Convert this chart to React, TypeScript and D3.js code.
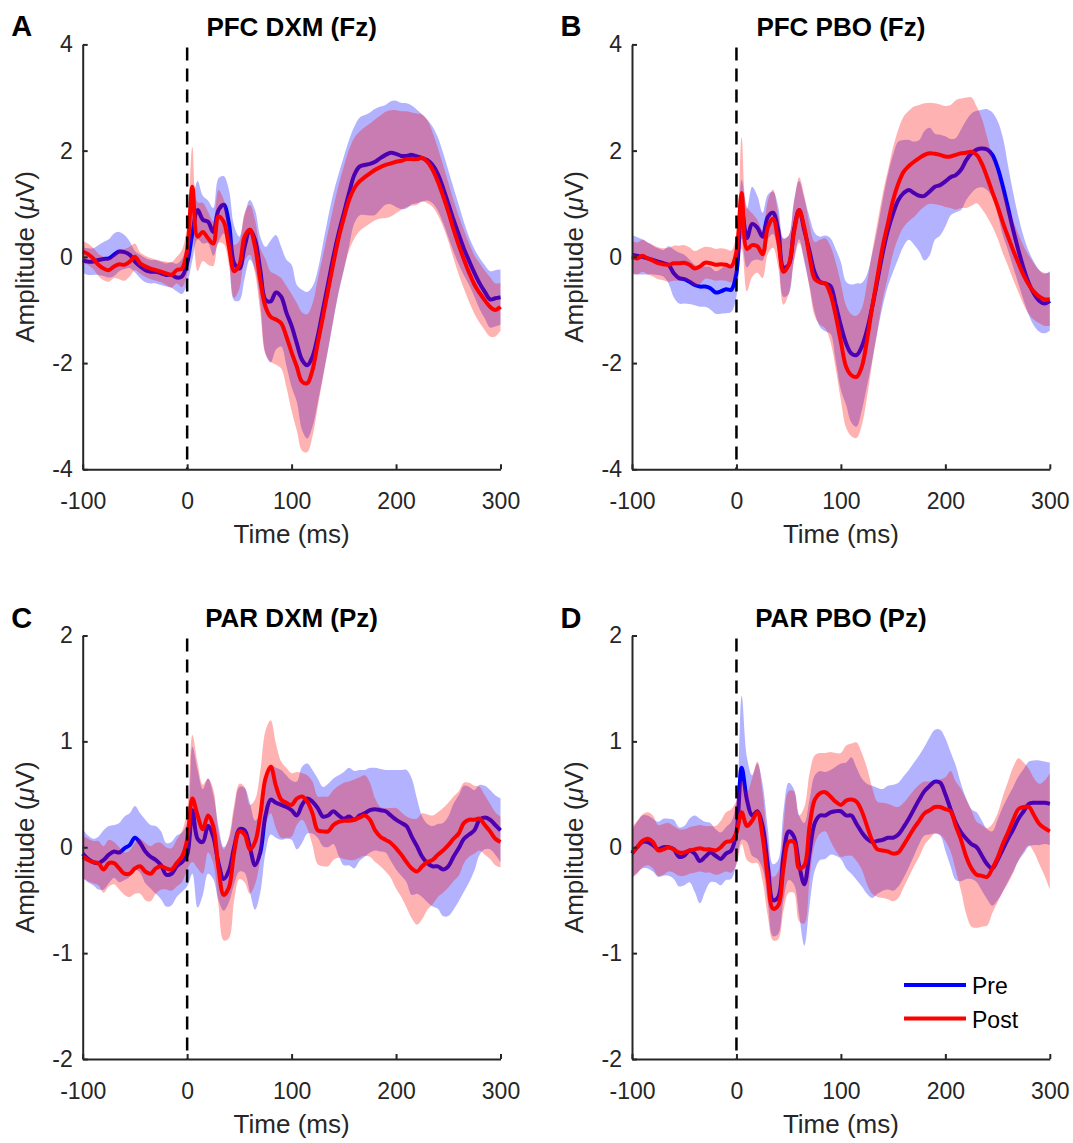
import React, { useEffect, useRef } from "react";
import * as d3 from "d3";

// time axis (ms), sampled every 5 ms
const times = [
  -100, -95, -90, -85, -80, -75, -70, -65, -60, -55,
  -50, -45, -40, -35, -30, -25, -20, -15, -10, -5,
  0, 5, 10, 15, 20, 25, 30, 35, 40, 45,
  50, 55, 60, 65, 70, 75, 80, 85, 90, 95,
  100, 105, 110, 115, 120, 125, 130, 135, 140, 145,
  150, 155, 160, 165, 170, 175, 180, 185, 190, 195,
  200, 205, 210, 215, 220, 225, 230, 235, 240, 245,
  250, 255, 260, 265, 270, 275, 280, 285, 290, 295,
  300,
];

const xTicks = [-100, 0, 100, 200, 300];
const yTicksFz = [-4, -2, 0, 2, 4];
const yTicksPz = [-2, -1, 0, 1, 2];

// ---- A: PFC DXM (Fz) ----
const aPreMean = [
  -0.06, -0.09, -0.09, -0.06, -0.04, -0.03, 0.04, 0.1, 0.09, 0.04,
  -0.09, -0.18, -0.25, -0.28, -0.28, -0.31, -0.34, -0.34, -0.39, -0.37,
  -0.12, 0.44, 0.88, 0.7, 0.66, 0.47, 0.88, 0.98, 0.63, -0.12,
  -0.22, 0.19, 0.51, 0.32, -0.25, -0.81, -0.84, -0.67, -0.75, -1.05,
  -1.3, -1.63, -1.94, -2.04, -1.88, -1.5, -1.0, -0.5, 0.0, 0.44,
  0.82, 1.2, 1.54, 1.7, 1.73, 1.75, 1.79, 1.86, 1.92, 1.96,
  1.94, 1.9, 1.9, 1.92, 1.89, 1.86, 1.82, 1.73, 1.56, 1.3,
  1.0, 0.7, 0.42, 0.15, -0.08, -0.3, -0.5, -0.66, -0.8, -0.78,
  -0.76,
];
const aPreErr = [
  0.24, 0.25, 0.25, 0.28, 0.32, 0.36, 0.4, 0.37, 0.32, 0.25,
  0.2, 0.22, 0.23, 0.22, 0.22, 0.22, 0.22, 0.24, 0.26, 0.33,
  0.38, 0.5, 0.55, 0.45, 0.4, 0.45, 0.6, 0.54, 0.63, 0.7,
  0.6, 0.6, 0.56, 0.56, 0.63, 1.0, 1.15, 1.08, 0.94, 1.0,
  1.15, 1.1, 1.32, 1.38, 1.32, 1.25, 1.25, 1.25, 1.2, 1.12,
  1.07, 1.0, 0.91, 0.92, 0.94, 0.97, 1.0, 0.97, 0.94, 0.97,
  1.0, 1.0, 0.99, 0.93, 0.88, 0.82, 0.76, 0.72, 0.69, 0.66,
  0.63, 0.6, 0.56, 0.5, 0.45, 0.45, 0.48, 0.5, 0.53, 0.53,
  0.52,
];
const aPostMean = [
  0.1, 0.05, -0.03, -0.15, -0.22, -0.25, -0.18, -0.14, -0.15, -0.09,
  0.0, -0.12, -0.18, -0.22, -0.25, -0.28, -0.31, -0.34, -0.25, -0.22,
  0.13, 1.32, 0.38, 0.47, 0.35, 0.25, 0.76, 0.66, 0.19, -0.27,
  -0.15, 0.38, 0.51, 0.19, -0.44, -0.94, -1.13, -1.18, -1.25, -1.5,
  -1.8, -2.07, -2.35, -2.38, -2.13, -1.63, -1.13, -0.62, -0.12, 0.35,
  0.73, 1.07, 1.29, 1.42, 1.5, 1.57, 1.64, 1.69, 1.73, 1.76,
  1.79, 1.81, 1.84, 1.84, 1.84, 1.86, 1.79, 1.64, 1.42, 1.15,
  0.85, 0.52, 0.22, -0.05, -0.3, -0.52, -0.68, -0.82, -0.94, -1.0,
  -0.94,
];
const aPostErr = [
  0.2, 0.2, 0.2, 0.21, 0.22, 0.22, 0.22, 0.28, 0.3, 0.28,
  0.25, 0.2, 0.2, 0.2, 0.2, 0.2, 0.22, 0.24, 0.25, 0.35,
  0.45, 0.75, 0.65, 0.55, 0.5, 0.42, 0.5, 0.42, 0.35, 0.5,
  0.45, 0.45, 0.47, 0.5, 0.6, 0.9, 0.85, 0.85, 0.85, 0.95,
  1.1, 1.2, 1.3, 1.3, 1.25, 1.2, 1.15, 1.1, 1.05, 1.0,
  0.97, 0.95, 0.95, 0.94, 0.94, 0.94, 0.95, 0.97, 1.0, 1.0,
  0.97, 0.93, 0.9, 0.88, 0.86, 0.82, 0.78, 0.7, 0.63, 0.58,
  0.55, 0.55, 0.55, 0.55, 0.55, 0.55, 0.56, 0.56, 0.56, 0.5,
  0.45,
];

// ---- B: PFC PBO (Fz) ----
const bPreMean = [
  0.04, 0.02, 0.0, -0.03, -0.06, -0.09, -0.12, -0.15, -0.31, -0.4,
  -0.42, -0.47, -0.53, -0.56, -0.56, -0.59, -0.67, -0.65, -0.61, -0.62,
  -0.3, 0.9, 0.35, 0.62, 0.55, 0.38, 0.75, 0.83, 0.5, -0.2,
  -0.15, 0.5, 0.88, 0.5, 0.1, -0.3, -0.47, -0.5, -0.55, -0.9,
  -1.3, -1.63, -1.82, -1.85, -1.69, -1.38, -0.94, -0.44, 0.07, 0.5,
  0.82, 1.07, 1.2, 1.26, 1.2, 1.15, 1.15, 1.23, 1.32, 1.35,
  1.42, 1.5, 1.54, 1.64, 1.82, 1.95, 2.02, 2.04, 2.02, 1.92,
  1.68, 1.33, 0.92, 0.5, 0.12, -0.22, -0.5, -0.7, -0.83, -0.88,
  -0.83,
];
const bPreErr = [
  0.37, 0.35, 0.33, 0.3, 0.27, 0.25, 0.25, 0.35, 0.45, 0.48,
  0.46, 0.42, 0.38, 0.38, 0.38, 0.4, 0.4, 0.42, 0.45, 0.42,
  0.45, 0.55, 0.55, 0.7, 0.6, 0.45, 0.42, 0.4, 0.45, 0.55,
  0.55, 0.55, 0.55, 0.6, 0.65, 0.75, 0.85, 0.9, 0.9, 1.05,
  1.2, 1.16, 1.3, 1.35, 1.2, 1.05, 1.0, 0.97, 1.0, 1.05,
  1.1, 1.1, 1.0, 0.94, 0.97, 1.05, 1.22, 1.2, 1.0, 0.95,
  0.85, 0.72, 0.7, 0.76, 0.75, 0.75, 0.73, 0.73, 0.76, 0.8,
  0.88, 0.92, 0.8, 0.7, 0.63, 0.6, 0.6, 0.6, 0.58, 0.56,
  0.56,
];
const bPostMean = [
  0.0, -0.03, 0.02, -0.03, -0.07, -0.12, -0.14, -0.15, -0.12, -0.12,
  -0.11, -0.15, -0.22, -0.18, -0.11, -0.12, -0.15, -0.14, -0.15, -0.18,
  0.1, 1.2, 0.15, 0.22, 0.2, 0.05, 0.55, 0.72, 0.3, -0.28,
  -0.15, 0.45, 0.88, 0.55, 0.0, -0.42, -0.48, -0.5, -0.7, -1.1,
  -1.6, -2.07, -2.23, -2.26, -2.07, -1.57, -0.94, -0.37, 0.19, 0.63,
  1.07, 1.38, 1.6, 1.71, 1.79, 1.86, 1.92, 1.95, 1.94, 1.92,
  1.89, 1.89, 1.92, 1.95, 1.96, 1.98, 1.92, 1.75, 1.5, 1.22,
  0.95, 0.65, 0.38, 0.12, -0.12, -0.35, -0.53, -0.66, -0.75, -0.8,
  -0.8,
];
const bPostErr = [
  0.3, 0.3, 0.3, 0.3, 0.3, 0.3, 0.3, 0.32, 0.33, 0.33,
  0.33, 0.33, 0.33, 0.33, 0.3, 0.3, 0.3, 0.3, 0.3, 0.3,
  0.32, 1.05, 0.8, 0.6, 0.5, 0.45, 0.5, 0.55, 0.5, 0.62,
  0.55, 0.55, 0.62, 0.6, 0.6, 0.7, 0.8, 0.85, 0.9, 1.0,
  1.1, 1.15, 1.15, 1.15, 1.1, 1.08, 1.05, 1.02, 1.0, 1.0,
  1.0, 1.02, 1.04, 1.04, 1.04, 1.0, 0.97, 0.95, 0.95, 0.95,
  0.95, 0.97, 1.03, 1.03, 1.04, 1.02, 0.91, 0.85, 0.75, 0.65,
  0.6, 0.58, 0.55, 0.55, 0.55, 0.55, 0.55, 0.53, 0.5, 0.5,
  0.5,
];

// ---- C: PAR DXM (Pz) ----
const cPreMean = [
  -0.06, -0.11, -0.14, -0.15, -0.12, -0.07, -0.04, -0.05, -0.01, 0.02,
  0.09, 0.04, -0.04, -0.09, -0.12, -0.17, -0.26, -0.25, -0.18, -0.14,
  -0.07, 0.35, 0.08, 0.05, 0.2, 0.1, -0.15, -0.3, -0.22, 0.0,
  0.17, 0.16, 0.0, -0.17, -0.05, 0.3, 0.45, 0.42, 0.4, 0.38,
  0.35, 0.3, 0.4, 0.46, 0.43, 0.37, 0.29, 0.3, 0.34, 0.3,
  0.27, 0.29, 0.26, 0.3, 0.32, 0.35, 0.36, 0.35, 0.34, 0.3,
  0.26, 0.23, 0.2, 0.1, 0.01, -0.09, -0.15, -0.18, -0.18, -0.21,
  -0.18, -0.09, -0.01, 0.08, 0.12, 0.16, 0.26, 0.28, 0.26, 0.21,
  0.16,
];
const cPreErr = [
  0.23, 0.22, 0.22, 0.25, 0.28, 0.27, 0.25, 0.28, 0.3, 0.3,
  0.3, 0.28, 0.3, 0.3, 0.32, 0.32, 0.3, 0.3, 0.29, 0.28,
  0.3, 0.6, 0.65, 0.5, 0.45, 0.4, 0.35, 0.3, 0.3, 0.35,
  0.4, 0.4, 0.42, 0.42, 0.38, 0.35, 0.33, 0.33, 0.33, 0.3,
  0.28, 0.32, 0.36, 0.33, 0.3, 0.28, 0.28, 0.3, 0.31, 0.38,
  0.44, 0.46, 0.46, 0.43, 0.41, 0.4, 0.39, 0.39, 0.39, 0.43,
  0.47, 0.5, 0.53, 0.55, 0.45, 0.38, 0.37, 0.38, 0.4, 0.44,
  0.47, 0.5, 0.5, 0.5, 0.45, 0.38, 0.33, 0.3, 0.28, 0.28,
  0.3,
];
const cPostMean = [
  -0.09, -0.12, -0.14, -0.15, -0.21, -0.15, -0.15, -0.2, -0.25, -0.25,
  -0.2, -0.18, -0.23, -0.25, -0.2, -0.18, -0.2, -0.21, -0.15, -0.09,
  0.07, 0.46, 0.3, 0.17, 0.3, 0.2, -0.2, -0.45, -0.38, -0.05,
  0.15, 0.12, -0.02, 0.05, 0.3, 0.65, 0.76, 0.58, 0.45, 0.42,
  0.4, 0.46, 0.48, 0.43, 0.32, 0.16, 0.15, 0.15, 0.21, 0.24,
  0.25, 0.25, 0.26, 0.28, 0.3, 0.26, 0.16, 0.1, 0.07, 0.04,
  -0.01, -0.07, -0.14, -0.2, -0.23, -0.18, -0.14, -0.12, -0.07, -0.03,
  0.02, 0.08, 0.13, 0.23, 0.26, 0.26, 0.27, 0.21, 0.15, 0.08,
  0.05,
];
const cPostErr = [
  0.2, 0.2, 0.2, 0.21, 0.22, 0.22, 0.2, 0.2, 0.2, 0.22,
  0.24, 0.26, 0.27, 0.26, 0.24, 0.22, 0.2, 0.2, 0.22, 0.24,
  0.28, 0.6, 0.5, 0.42, 0.35, 0.35, 0.35, 0.43, 0.48, 0.45,
  0.45, 0.45, 0.42, 0.4, 0.42, 0.45, 0.44, 0.4, 0.36, 0.33,
  0.3, 0.25, 0.22, 0.25, 0.3, 0.32, 0.33, 0.33, 0.33, 0.34,
  0.36, 0.37, 0.38, 0.38, 0.38, 0.35, 0.3, 0.28, 0.3, 0.33,
  0.38, 0.4, 0.43, 0.47, 0.5, 0.5, 0.45, 0.42, 0.4, 0.4,
  0.4, 0.4, 0.4, 0.38, 0.35, 0.32, 0.3, 0.28, 0.26, 0.25,
  0.24,
];

// ---- D: PAR PBO (Pz) ----
const dPreMean = [
  -0.06, 0.0, 0.05, 0.05, 0.02, -0.02, 0.0, 0.0, -0.02, -0.09,
  -0.08, -0.03, -0.06, -0.13, -0.09, -0.05, -0.08, -0.11, -0.06, -0.03,
  0.14, 0.75, 0.45, 0.3, 0.34, 0.2, -0.17, -0.5, -0.47, -0.08,
  0.15, 0.1, -0.17, -0.35, -0.05, 0.23, 0.3, 0.3, 0.33, 0.34,
  0.34, 0.3, 0.3, 0.22, 0.14, 0.08, 0.05, 0.06, 0.07, 0.09,
  0.09, 0.12, 0.19, 0.27, 0.36, 0.45, 0.53, 0.58, 0.62, 0.61,
  0.5, 0.36, 0.23, 0.14, 0.08, 0.03, 0.0, -0.08, -0.16, -0.2,
  -0.12, -0.02, 0.08, 0.17, 0.27, 0.34, 0.41, 0.42, 0.42, 0.42,
  0.41,
];
const dPreErr = [
  0.22, 0.24, 0.25, 0.25, 0.25, 0.26, 0.27, 0.27, 0.28, 0.28,
  0.28, 0.3, 0.36, 0.4, 0.33, 0.28, 0.25, 0.25, 0.25, 0.27,
  0.3, 0.68, 0.4, 0.38, 0.45, 0.4, 0.35, 0.34, 0.35, 0.42,
  0.46, 0.45, 0.47, 0.58, 0.5, 0.45, 0.42, 0.41, 0.4, 0.42,
  0.45, 0.5, 0.55, 0.53, 0.51, 0.52, 0.53, 0.5, 0.48, 0.49,
  0.5, 0.49, 0.48, 0.46, 0.44, 0.42, 0.42, 0.46, 0.49, 0.5,
  0.53, 0.54, 0.54, 0.46, 0.38, 0.33, 0.33, 0.33, 0.33, 0.35,
  0.38, 0.4, 0.4, 0.4, 0.4, 0.4, 0.4, 0.4, 0.4, 0.39,
  0.39,
];
const dPostMean = [
  -0.05, 0.0, 0.06, 0.08, 0.05, -0.03, -0.02, 0.0, -0.02, -0.05,
  -0.05, -0.03, -0.02, -0.01, -0.02, -0.02, -0.03, 0.0, 0.05, 0.06,
  0.14, 0.33, 0.2, 0.25, 0.33, 0.1, -0.3, -0.58, -0.55, -0.2,
  0.05, 0.05, -0.2, -0.17, 0.2, 0.45, 0.51, 0.52, 0.48, 0.43,
  0.4, 0.44, 0.45, 0.43, 0.34, 0.2, 0.06, -0.02, -0.03, -0.04,
  -0.06, -0.05, 0.02, 0.1, 0.18, 0.25, 0.32, 0.35, 0.38, 0.38,
  0.36, 0.34, 0.2, 0.07, -0.09, -0.2, -0.26, -0.27, -0.28, -0.2,
  -0.1, 0.03, 0.14, 0.26, 0.36, 0.38, 0.38, 0.3, 0.22, 0.18,
  0.15,
];
const dPostErr = [
  0.24, 0.25, 0.25, 0.25, 0.25, 0.24, 0.24, 0.23, 0.22, 0.22,
  0.22, 0.22, 0.22, 0.22, 0.22, 0.22, 0.23, 0.25, 0.28, 0.3,
  0.3, 0.3, 0.32, 0.4, 0.48, 0.42, 0.35, 0.3, 0.32, 0.4,
  0.48, 0.48, 0.5, 0.55, 0.5, 0.42, 0.38, 0.37, 0.42, 0.46,
  0.49, 0.52, 0.53, 0.56, 0.55, 0.55, 0.5, 0.45, 0.45, 0.45,
  0.45, 0.43, 0.4, 0.38, 0.36, 0.34, 0.3, 0.27, 0.25, 0.26,
  0.3, 0.38, 0.42, 0.48, 0.54, 0.55, 0.5, 0.48, 0.46, 0.42,
  0.42, 0.45, 0.48, 0.5, 0.48, 0.42, 0.36, 0.35, 0.38, 0.45,
  0.55,
];

const PRE = "#0000ff";
const POST = "#ff0000";
const INK = "#262626";
const FONT = "'Liberation Sans', Arial, Helvetica, sans-serif";

const W = 1073, H = 1143;
const PW = 417.8;

const panels = [
  { letter: "A", title: "PFC DXM (Fz)", left: 82.7, top: 44.4, h: 424.9, yDomain: [-4, 4], yTicks: yTicksFz,
    pre: aPreMean, preErr: aPreErr, post: aPostMean, postErr: aPostErr, legend: false },
  { letter: "B", title: "PFC PBO (Fz)", left: 632, top: 44.4, h: 424.9, yDomain: [-4, 4], yTicks: yTicksFz,
    pre: bPreMean, preErr: bPreErr, post: bPostMean, postErr: bPostErr, legend: false },
  { letter: "C", title: "PAR DXM (Pz)", left: 82.7, top: 635.5, h: 423.5, yDomain: [-2, 2], yTicks: yTicksPz,
    pre: cPreMean, preErr: cPreErr, post: cPostMean, postErr: cPostErr, legend: false },
  { letter: "D", title: "PAR PBO (Pz)", left: 632, top: 635.5, h: 423.5, yDomain: [-2, 2], yTicks: yTicksPz,
    pre: dPreMean, preErr: dPreErr, post: dPostMean, postErr: dPostErr, legend: true },
];

function drawPanel(svg: any, p: any) {
  const g = svg.append("g").attr("transform", `translate(${p.left},${p.top})`);
  const x = d3.scaleLinear().domain([-100, 300]).range([0, PW]);
  const y = d3.scaleLinear().domain(p.yDomain).range([p.h, 0]);
  const curve = d3.curveCatmullRom.alpha(0.5);

  const series = [
    { mean: p.pre, err: p.preErr, color: PRE },
    { mean: p.post, err: p.postErr, color: POST },
  ];

  series.forEach((s) => {
    const band = d3.area<number>()
      .x((_, i) => x(times[i]))
      .y0((d, i) => y(d - s.err[i]))
      .y1((d, i) => y(d + s.err[i]))
      .curve(curve);
    const line = d3.line<number>()
      .x((_, i) => x(times[i]))
      .y((d) => y(d))
      .curve(curve);

    g.append("path").datum(s.mean).attr("d", band)
      .attr("fill", s.color).attr("fill-opacity", 0.3).attr("stroke", "none");
    g.append("path").datum(s.mean).attr("d", line)
      .attr("fill", "none").attr("stroke", s.color).attr("stroke-width", 4)
      .attr("stroke-linejoin", "round").attr("stroke-linecap", "butt");
  });

  // stimulus onset
  g.append("line")
    .attr("x1", x(0)).attr("x2", x(0)).attr("y1", 3).attr("y2", p.h)
    .attr("stroke", "#000").attr("stroke-width", 2.5).attr("stroke-dasharray", "13,8");

  const yAxis = d3.axisLeft(y).tickValues(p.yTicks).tickSizeInner(-5).tickSizeOuter(0)
    .tickPadding(10).tickFormat((d: any) => String(d));
  const xAxis = d3.axisBottom(x).tickValues(xTicks).tickSizeInner(-5).tickSizeOuter(0)
    .tickPadding(23.7).tickFormat((d: any) => String(d));

  const ya = g.append("g").call(yAxis);
  const xa = g.append("g").attr("transform", `translate(0,${p.h})`).call(xAxis);
  [ya, xa].forEach((a) => {
    a.select(".domain").attr("stroke", INK).attr("stroke-width", 2);
    a.selectAll(".tick line").attr("stroke", INK).attr("stroke-width", 2);
    a.selectAll(".tick text").attr("fill", INK).attr("font-size", 23).attr("font-family", FONT);
  });

  g.append("text")
    .attr("x", PW / 2).attr("y", p.h + 73.5)
    .attr("text-anchor", "middle").attr("font-size", 26).attr("font-family", FONT).attr("fill", INK)
    .text("Time (ms)");

  const yl = g.append("text")
    .attr("transform", `translate(-49,${p.h / 2}) rotate(-90)`)
    .attr("text-anchor", "middle").attr("font-size", 26).attr("font-family", FONT).attr("fill", INK);
  yl.append("tspan").text("Amplitude (");
  yl.append("tspan").attr("font-style", "italic").text("\u03bc");
  yl.append("tspan").text("V)");

  g.append("text")
    .attr("x", PW / 2).attr("y", -8.7)
    .attr("text-anchor", "middle").attr("font-size", 26).attr("font-weight", "bold")
    .attr("font-family", FONT).attr("fill", "#000")
    .text(p.title);

  svg.append("text")
    .attr("x", p.left - 71.5).attr("y", p.top - 8)
    .attr("font-size", 29).attr("font-weight", "bold").attr("font-family", FONT).attr("fill", "#000")
    .text(p.letter);

  if (p.legend) {
    const items = [{ label: "Pre", color: PRE }, { label: "Post", color: POST }];
    items.forEach((it, i) => {
      const yy = 349.5 + i * 33.5;
      g.append("line").attr("x1", 272).attr("x2", 334).attr("y1", yy).attr("y2", yy)
        .attr("stroke", it.color).attr("stroke-width", 4);
      g.append("text").attr("x", 340).attr("y", yy + 9)
        .attr("font-size", 23).attr("font-family", FONT).attr("fill", "#000")
        .text(it.label);
    });
  }
}

export default function App() {
  const ref = useRef<SVGSVGElement>(null);

  useEffect(() => {
    const svg = d3.select(ref.current);
    svg.selectAll("*").remove();
    panels.forEach((p) => drawPanel(svg, p));
  }, []);

  return (
    <svg
      ref={ref}
      width={W}
      height={H}
      style={{ position: "absolute", left: 0, top: 0, background: "#fff", display: "block" }}
    />
  );
}
